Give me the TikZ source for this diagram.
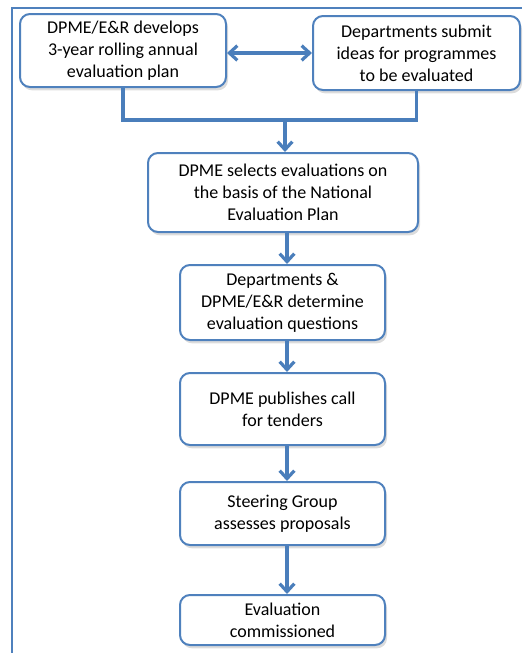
\documentclass[tikz,border=0pt]{standalone}
\usepackage{fontspec}
\setmainfont{Carlito}
\usetikzlibrary{arrows.meta, shadows}
\definecolor{boxblue}{HTML}{4F81BD}
\definecolor{arrowblue}{HTML}{4A7EBB}
\definecolor{shadowgray}{HTML}{9A9A9A}

\begin{document}
\begin{tikzpicture}[
  x=0.75pt, y=-0.75pt,
  every node/.style={text=black, font=\fontsize{13.5}{16.5}\selectfont},
  stepbox/.style={draw=boxblue, line width=1.5pt, fill=white, rounded corners=7.5pt,
    align=center, inner sep=0pt,
    drop shadow={shadow xshift=1.5pt, shadow yshift=-2.5pt, opacity=0.35, fill=shadowgray}},
  flow/.style={arrowblue, line width=2.4pt},
  flowarrow/.style={flow, -{Straight Barb[length=6pt, width=11pt]}},
]

\useasboundingbox (0,0) rectangle (522,653);

% Frame
\draw[boxblue, line width=1.5pt] (12,653) -- (12,8) -- (522,8);

% Top row
\node[stepbox, minimum width=206*0.75pt, minimum height=73*0.75pt] (plan) at (123,50.5)
  {DPME/E\&R develops\\3-year rolling annual\\evaluation plan};
\node[stepbox, minimum width=207*0.75pt, minimum height=74*0.75pt] (ideas) at (416.5,53)
  {Departments submit\\ideas for programmes\\to be evaluated};
\draw[flow, {Straight Barb[length=6pt, width=11pt]}-{Straight Barb[length=6pt, width=11pt]}]
  (plan.east |- 0,53) -- (ideas.west |- 0,53);

% Main column
\node[stepbox, minimum width=270*0.75pt, minimum height=79*0.75pt] (select) at (283,192.5)
  {DPME selects evaluations on\\the basis of the National\\Evaluation Plan};
\node[stepbox, minimum width=205*0.75pt, minimum height=75*0.75pt] (questions) at (282.5,302.5)
  {Departments \&\\DPME/E\&R determine\\evaluation questions};
\node[stepbox, minimum width=205*0.75pt, minimum height=72*0.75pt] (tender) at (282.5,409)
  {DPME publishes call\\for tenders};
\node[stepbox, minimum width=205*0.75pt, minimum height=63*0.75pt] (assess) at (282.5,513.5)
  {Steering Group\\assesses proposals};
\node[stepbox, minimum width=205*0.75pt, minimum height=50*0.75pt] (commission) at (282.5,620)
  {Evaluation\\commissioned};

% Connectors
\coordinate (join) at (285,120);
\draw[flow] (plan.south) |- (join) -| (ideas.south);
\draw[flowarrow] (join) -- (join |- select.north);
\draw[flowarrow] (select.south -| 287,0) -- (questions.north -| 287,0);
\draw[flowarrow] (questions.south -| 287,0) -- (tender.north -| 287,0);
\draw[flowarrow] (tender.south -| 287,0) -- (assess.north -| 287,0);
\draw[flowarrow] (assess.south -| 287,0) -- (commission.north -| 287,0);

\end{tikzpicture}
\end{document}
